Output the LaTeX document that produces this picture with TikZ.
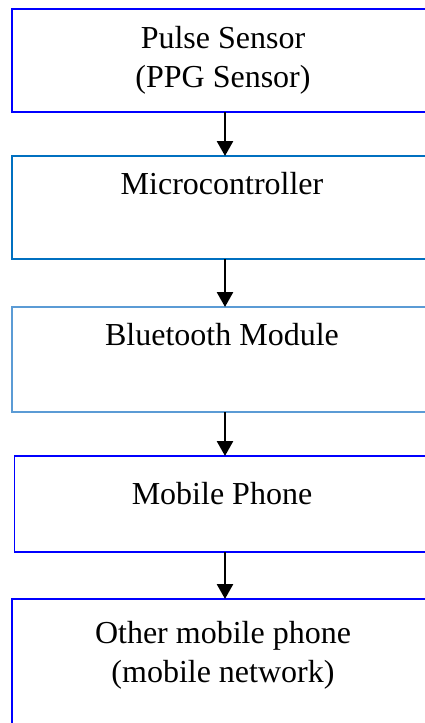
\documentclass[tikz,border=0pt]{standalone}
\usepackage{fontspec}
\setmainfont{Liberation Serif}
\usetikzlibrary{arrows.meta}
\definecolor{boxblue}{RGB}{0,0,255}
\definecolor{midblue}{RGB}{0,112,192}
\definecolor{softblue}{RGB}{91,155,213}
\begin{document}
\begin{tikzpicture}[x=1pt,y=1pt,
  stage/.style={draw, line width=1.5pt, rectangle, inner sep=0pt, outer sep=0pt,
                minimum width=426pt},
  caption/.style={font=\fontsize{32}{39}\selectfont, align=center, anchor=base, inner sep=0pt},
  flow/.style={line width=2.7pt, -{Triangle[length=15pt,width=16pt]}}]
  \useasboundingbox (0,0) rectangle (425,-723);
  \clip (0,0) rectangle (425,-723);
  % stages of the signal chain
  \node[stage, boxblue, minimum height=103pt] (b1) at (225,-60.5) {};
  \node[stage, midblue, minimum height=103pt] (b2) at (225,-207.5) {};
  \node[stage, softblue, minimum height=105pt] (b3) at (225,-359.5) {};
  \node[stage, boxblue, minimum height=96pt, minimum width=421pt] (b4) at (225,-504) {};
  \node[stage, boxblue, minimum height=150pt] (b5) at (225,-674) {};
  % captions (base anchor sits on the last line)
  \node[caption] (t1) at (223,-87) {Pulse Sensor\\(PPG Sensor)};
  \node[caption] (t2) at (222,-194) {Microcontroller};
  \node[caption] (t3) at (222,-345) {Bluetooth Module};
  \node[caption] (t4) at (222,-504) {Mobile Phone};
  \node[caption] (t5) at (223,-682) {Other mobile phone\\(mobile network)};
  % connectors
  \draw[flow] (b1.south) -- (b2.north);
  \draw[flow] (b2.south) -- (b3.north);
  \draw[flow] (b3.south) -- (b4.north);
  \draw[flow] (b4.south) -- (b5.north);
\end{tikzpicture}
\end{document}
